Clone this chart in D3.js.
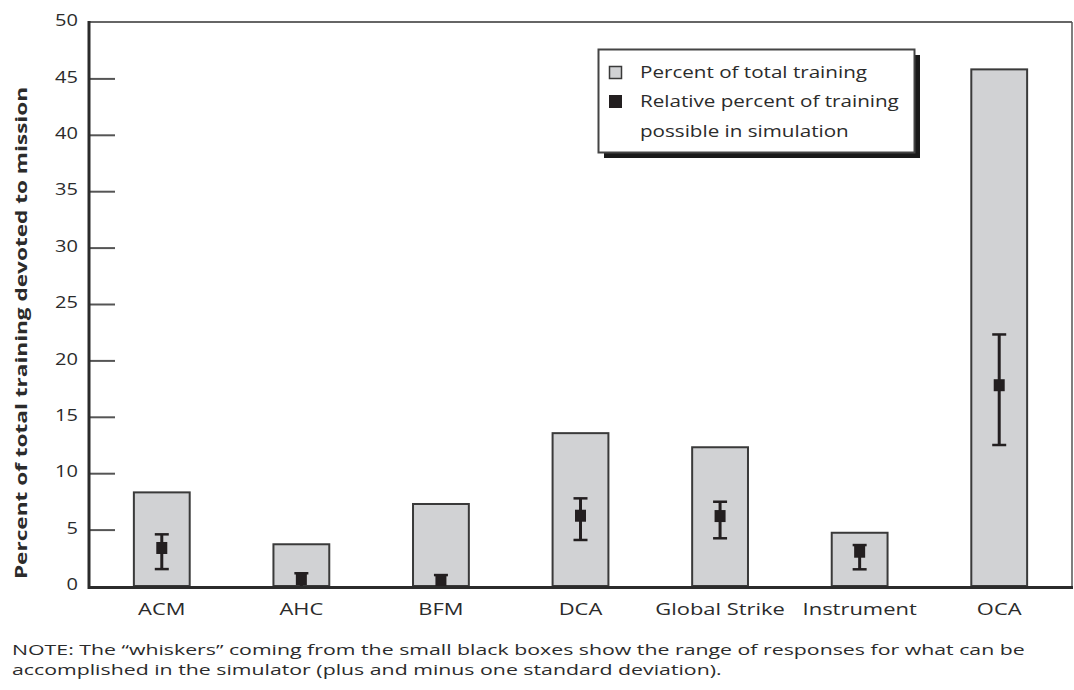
<!DOCTYPE html>
<html><head><meta charset="utf-8">
<script src="https://cdn.jsdelivr.net/npm/d3@7"></script>
<style>
body{margin:0;background:#fff;}
text{font-family:"Open Sans",sans-serif;fill:#2b2b2b;}
</style></head>
<body><svg id="c" width="1074" height="690"></svg>
<script>
const categories = ["ACM","AHC","BFM","DCA","Global Strike","Instrument","OCA"];
const totalPct   = [8.3, 3.7, 7.27, 13.55, 12.3, 4.72, 45.8];
const simMid     = [3.37, 0.62, 0.38, 6.23, 6.2, 3.04, 17.8];
const simLow     = [1.5, 0.0, 0.0, 4.08, 4.23, 1.48, 12.5];
const simHigh    = [4.58, 1.13, 0.97, 7.77, 7.47, 3.63, 22.3];
const yTicks     = [0,5,10,15,20,25,30,35,40,45,50];
const legendLabels = ["Percent of total training","Relative percent of training","possible in simulation"];
const yTitle = "Percent of total training devoted to mission";
const noteLines = ["NOTE: The \u201cwhiskers\u201d coming from the small black boxes show the range of responses for what can be",
                   "accomplished in the simulator (plus and minus one standard deviation)."];

const svg = d3.select("#c");
const x = d3.scaleBand().domain(categories).range([92,1069]).paddingInner(0.6).paddingOuter(0.3);
const y = d3.scaleLinear().domain([0,50]).range([586,22]);
const left = 89, right = 1072;
const tr = (px,py,sx,rot)=>`translate(${px},${py})${rot?` rotate(${rot})`:""} scale(${sx},1)`;

// frame: top and right lines
svg.append("line").attr("x1",left).attr("x2",right).attr("y1",y(50)).attr("y2",y(50))
  .attr("stroke","#666").attr("stroke-width",2);
svg.append("line").attr("x1",right).attr("x2",right).attr("y1",y(50)).attr("y2",y(0))
  .attr("stroke","#555").attr("stroke-width",1.5);

// y axis ticks (inward)
const yAxis = d3.axisRight(y).tickValues(yTicks).tickSize(26).tickFormat("");
const gy = svg.append("g").attr("transform",`translate(${left},0)`).call(yAxis);
gy.select(".domain").remove();
gy.selectAll(".tick line").attr("stroke","#555").attr("stroke-width",2)
  .filter(d=>d===0||d===50).remove();
// tick labels
svg.append("g").selectAll("text").data(yTicks).join("text")
  .attr("transform",d=>tr(78,y(d)-1.5,1.25)).attr("dy","0.35em").attr("text-anchor","end")
  .attr("font-size",16).text(d=>d);

// bars
svg.append("g").selectAll("rect").data(categories).join("rect")
  .attr("x",d=>x(d)).attr("width",x.bandwidth())
  .attr("y",(d,i)=>y(totalPct[i])).attr("height",(d,i)=>y(0)-y(totalPct[i]))
  .attr("fill","#d1d2d4").attr("stroke","#3a3a3a").attr("stroke-width",2);

// whiskers
const wg = svg.append("g");
categories.forEach((c,i)=>{
  const cx = x(c)+x.bandwidth()/2;
  wg.append("line").attr("x1",cx).attr("x2",cx).attr("y1",y(simHigh[i])).attr("y2",y(simLow[i]))
    .attr("stroke","#231f20").attr("stroke-width",3);
  wg.append("line").attr("x1",cx-7).attr("x2",cx+7).attr("y1",y(simHigh[i])).attr("y2",y(simHigh[i]))
    .attr("stroke","#231f20").attr("stroke-width",2.5);
  if(simLow[i]>0){
    wg.append("line").attr("x1",cx-7).attr("x2",cx+7).attr("y1",y(simLow[i])).attr("y2",y(simLow[i]))
      .attr("stroke","#231f20").attr("stroke-width",2.5);
  }
  const top = y(simMid[i])-6, bot = Math.min(y(simMid[i])+6, y(0));
  wg.append("rect").attr("x",cx-5.5).attr("width",11).attr("y",top).attr("height",bot-top)
    .attr("fill","#231f20");
});

// axes lines
svg.append("line").attr("x1",left).attr("x2",left).attr("y1",y(50)-1).attr("y2",y(0)+3)
  .attr("stroke","#2b2b2b").attr("stroke-width",3);
svg.append("line").attr("x1",left).attr("x2",right+1).attr("y1",y(0)+1.5).attr("y2",y(0)+1.5)
  .attr("stroke","#2b2b2b").attr("stroke-width",3);

// x labels
svg.append("g").selectAll("text").data(categories).join("text")
  .attr("transform",d=>tr(x(d)+x.bandwidth()/2,615,1.33)).attr("text-anchor","middle")
  .attr("font-size",16.5).text(d=>d);

// y title
svg.append("text").attr("transform",tr(27,333,1.37,-90))
  .attr("text-anchor","middle").attr("font-size",16.5).attr("font-weight","bold").text(yTitle);

// legend
const lg = svg.append("g");
lg.append("rect").attr("x",604).attr("y",55).attr("width",316).attr("height",103).attr("fill","#1a1a1a");
lg.append("rect").attr("x",598.5).attr("y",49.5).attr("width",316).attr("height",103)
  .attr("fill","#fff").attr("stroke","#444").attr("stroke-width",2);
lg.append("rect").attr("x",609.5).attr("y",66.5).attr("width",12).attr("height",12)
  .attr("fill","#d1d2d4").attr("stroke","#3a3a3a").attr("stroke-width",1.5);
lg.append("rect").attr("x",609).attr("y",95).attr("width",13).attr("height",13).attr("fill","#231f20");
lg.selectAll("text.l").data(legendLabels).join("text").attr("class","l")
  .attr("transform",(d,i)=>tr(640,[77.5,107,137][i],1.25)).attr("font-size",16.5).text(d=>d);

// note
svg.selectAll("text.n").data(noteLines).join("text").attr("class","n")
  .attr("transform",(d,i)=>tr(12,655+i*19.6,1.49)).attr("font-size",14.3).text(d=>d);
</script></body></html>
